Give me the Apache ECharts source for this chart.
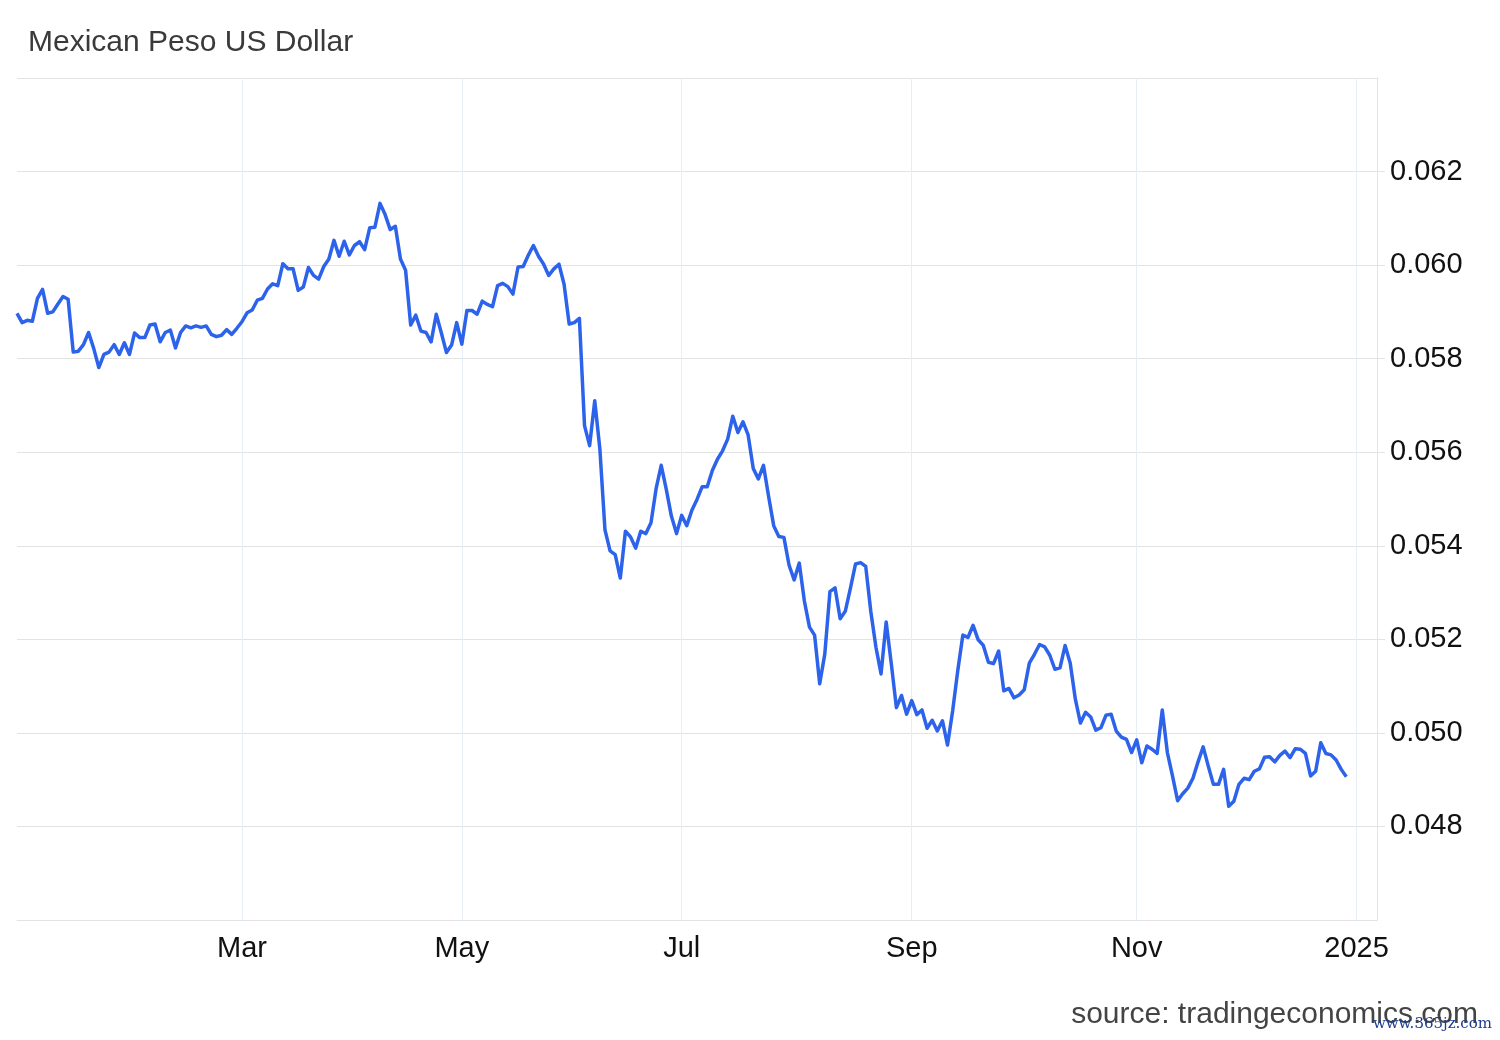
<!DOCTYPE html>
<html>
<head>
<meta charset="utf-8">
<script src="https://cdn.jsdelivr.net/npm/echarts@6/dist/echarts.min.js"></script>
<style>
  html, body { margin: 0; padding: 0; background: #ffffff; }
  #chart { width: 1500px; height: 1040px; }
</style>
</head>
<body>
<div id="chart"></div>
<script>
// ---- data ----
const TITLE = 'Mexican Peso US Dollar';
const SOURCE = 'source: tradingeconomics.com';
const START_DATE = '2024-01-01';   // first trading day shown
const AXIS_END_DATE = '2025-01-07'; // axis extends a few business days past the data
const LABEL_MONTHS = [2, 4, 6, 8, 10, 0]; // Mar, May, Jul, Sep, Nov, Jan(year)
const MONTH_NAMES = ['Jan','Feb','Mar','Apr','May','Jun','Jul','Aug','Sep','Oct','Nov','Dec'];
const Y_MIN = 0.046, Y_MAX = 0.064, Y_STEP = 0.002;

// daily MXN/USD closes, one per business day from 2024-01-01
const mxnUsd = [
  0.05897,0.05877,0.05882,0.05880,0.05929,0.05948,0.05897,0.05900,0.05917,0.05933,
  0.05927,0.05814,0.05816,0.05830,0.05856,0.05822,0.05781,0.05809,0.05814,0.05830,
  0.05809,0.05834,0.05809,0.05855,0.05845,0.05845,0.05872,0.05874,0.05836,0.05856,
  0.05861,0.05823,0.05856,0.05870,0.05866,0.05870,0.05867,0.05870,0.05852,0.05847,
  0.05850,0.05862,0.05852,0.05865,0.05879,0.05898,0.05904,0.05925,0.05929,0.05949,
  0.05960,0.05956,0.06003,0.05992,0.05992,0.05946,0.05953,0.05995,0.05978,0.05970,
  0.05997,0.06013,0.06053,0.06019,0.06051,0.06022,0.06042,0.06050,0.06033,0.06080,
  0.06081,0.06132,0.06108,0.06076,0.06083,0.06013,0.05989,0.05872,0.05893,0.05859,
  0.05856,0.05836,0.05895,0.05855,0.05813,0.05829,0.05877,0.05831,0.05903,0.05903,
  0.05895,0.05923,0.05916,0.05911,0.05956,0.05961,0.05954,0.05938,0.05996,0.05997,
  0.06021,0.06042,0.06019,0.06002,0.05978,0.05992,0.06002,0.05959,0.05874,0.05877,
  0.05886,0.05657,0.05614,0.05710,0.05607,0.05434,0.05389,0.05381,0.05331,0.05431,
  0.05419,0.05395,0.05431,0.05426,0.05449,0.05522,0.05572,0.05520,0.05463,0.05426,
  0.05465,0.05443,0.05476,0.05499,0.05526,0.05526,0.05561,0.05585,0.05603,0.05628,
  0.05677,0.05642,0.05665,0.05637,0.05565,0.05543,0.05572,0.05506,0.05443,0.05420,
  0.05418,0.05359,0.05327,0.05363,0.05282,0.05226,0.05209,0.05105,0.05169,0.05302,
  0.05310,0.05244,0.05260,0.05309,0.05361,0.05364,0.05356,0.05259,0.05183,0.05126,
  0.05237,0.05148,0.05054,0.05080,0.05040,0.05069,0.05039,0.05049,0.05010,0.05027,
  0.05004,0.05026,0.04974,0.05047,0.05133,0.05209,0.05204,0.05230,0.05199,0.05187,
  0.05151,0.05148,0.05175,0.05090,0.05095,0.05075,0.05081,0.05092,0.05149,0.05168,
  0.05189,0.05184,0.05166,0.05136,0.05139,0.05187,0.05149,0.05072,0.05021,0.05044,
  0.05034,0.05006,0.05011,0.05038,0.05040,0.05004,0.04991,0.04986,0.04958,0.04985,
  0.04936,0.04972,0.04965,0.04956,0.05049,0.04958,0.04908,0.04855,0.04870,0.04882,
  0.04903,0.04938,0.04970,0.04929,0.04890,0.04890,0.04922,0.04843,0.04854,0.04890,
  0.04903,0.04900,0.04918,0.04923,0.04948,0.04949,0.04938,0.04952,0.04961,0.04947,
  0.04966,0.04965,0.04956,0.04908,0.04918,0.04979,0.04956,0.04953,0.04942,0.04922,
  0.04906
];

// ---- categories: business days (calendar, not values) ----
function businessDays(startStr, endStr) {
  const out = [];
  const s = new Date(startStr + 'T00:00:00Z');
  const e = new Date(endStr + 'T00:00:00Z');
  for (let d = new Date(s); d <= e; d.setUTCDate(d.getUTCDate() + 1)) {
    const wd = d.getUTCDay();
    if (wd !== 0 && wd !== 6) out.push(d.toISOString().slice(0, 10));
  }
  return out;
}
const categories = businessDays(START_DATE, AXIS_END_DATE);

function monthOf(s) { return parseInt(s.slice(5, 7), 10) - 1; }
function isLabelIdx(idx) {
  if (idx <= 0) return false;
  const m = monthOf(categories[idx]);
  return m !== monthOf(categories[idx - 1]) && LABEL_MONTHS.indexOf(m) >= 0;
}

const FONT = "'Liberation Sans', Arial, Helvetica, sans-serif";
const chart = echarts.init(document.getElementById('chart'), null, { renderer: 'canvas' });
chart.setOption({
  animation: false,
  backgroundColor: '#ffffff',
  title: {
    text: TITLE,
    left: 23,
    top: 23,
    textStyle: { fontFamily: FONT, fontSize: 30, fontWeight: 'normal', color: '#3a3a3a' }
  },
  graphic: [
    {
      type: 'text', right: 22, top: 1000,
      style: { text: SOURCE, font: "30px 'Liberation Sans', Arial, sans-serif", fill: '#444444' }
    },
    {
      type: 'text', right: 8, top: 1017,
      style: { text: 'www.365jz.com', font: "15px 'DejaVu Serif', 'Liberation Serif', serif", fill: '#1d3d8f' }
    }
  ],
  grid: { left: 17, right: 123, top: 78, bottom: 120, containLabel: false },
  xAxis: {
    type: 'category',
    data: categories,
    boundaryGap: false,
    axisLine: { show: true, lineStyle: { color: '#e3e3e3', width: 1 } },
    axisTick: { show: false },
    axisLabel: {
      interval: (idx) => isLabelIdx(idx),
      formatter: (v) => {
        const m = monthOf(v);
        return m === 0 ? v.slice(0, 4) : MONTH_NAMES[m];
      },
      margin: 14,
      fontFamily: FONT, fontSize: 29, color: '#111111'
    },
    splitLine: {
      show: true,
      interval: (idx) => isLabelIdx(idx),
      lineStyle: { color: '#e6eef7', width: 1 }
    }
  },
  yAxis: {
    type: 'value',
    position: 'right',
    min: Y_MIN, max: Y_MAX, interval: Y_STEP,
    axisLine: { show: true, lineStyle: { color: '#e3e3e3', width: 1 } },
    axisTick: { show: true, length: 8, lineStyle: { color: '#e3e3e3' } },
    axisLabel: {
      showMinLabel: false, showMaxLabel: false,
      formatter: (v) => v.toFixed(3),
      margin: 13,
      fontFamily: FONT, fontSize: 29, color: '#111111'
    },
    splitLine: { show: true, lineStyle: { color: '#e3e3e3', width: 1 } }
  },
  series: [{
    name: TITLE,
    type: 'line',
    data: mxnUsd,
    showSymbol: false,
    symbol: 'none',
    smooth: false,
    lineStyle: { color: '#2c63ea', width: 3.5, join: 'round' },
    itemStyle: { color: '#2c63ea' }
  }]
});
</script>
</body>
</html>
